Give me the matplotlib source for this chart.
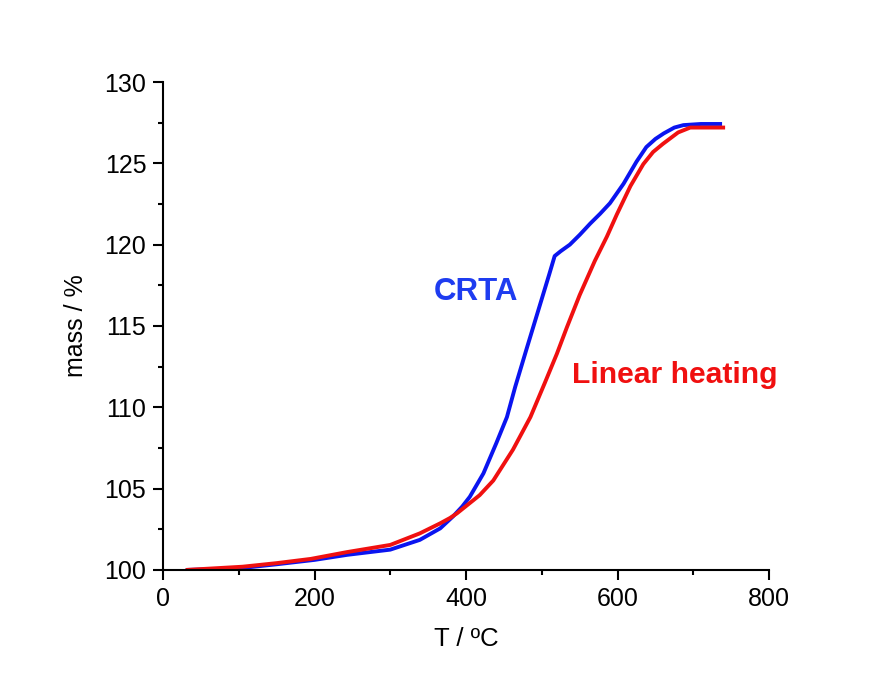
import matplotlib
matplotlib.use("Agg")
from matplotlib import pyplot as plt
from matplotlib.ticker import MultipleLocator

plt.rcParams["font.family"] = ["Liberation Sans", "DejaVu Sans"]

# CRTA curve (blue)
crta_t = [30, 100, 150, 200, 243, 300, 339, 366, 383, 395, 405, 423, 440, 454,
          465, 480, 495, 510, 517, 525, 537, 550, 564, 577, 590, 608, 625, 638,
          650, 661, 675, 687, 710, 738]
crta_m = [100.0, 100.1, 100.35, 100.62, 100.93, 101.25, 101.85, 102.56, 103.3,
          103.9, 104.5, 105.94, 107.8, 109.4, 111.27, 113.6, 115.9, 118.2,
          119.3, 119.6, 120.0, 120.6, 121.3, 121.9, 122.55, 123.75, 125.1,
          126.0, 126.5, 126.84, 127.2, 127.35, 127.42, 127.42]

# linear heating curve (red)
lin_t = [30, 105, 150, 195, 243, 300, 339, 366, 379, 388, 410, 418, 436, 462,
         485, 504, 520, 533, 550, 570, 586, 599, 617, 634, 647, 660, 680, 696,
         720, 742]
lin_m = [100.0, 100.2, 100.42, 100.68, 101.1, 101.54, 102.25, 102.87, 103.2,
         103.48, 104.3, 104.6, 105.5, 107.4, 109.4, 111.5, 113.3, 114.9, 116.9,
         119.0, 120.5, 121.85, 123.6, 124.95, 125.7, 126.2, 126.9, 127.2,
         127.2, 127.2]

fig = plt.figure(figsize=(8.75, 6.75), dpi=100)
ax = fig.add_axes([0.1863, 0.1556, 0.6926, 0.7229])

ax.plot(crta_t, crta_m, color="#0a14f0", lw=2.8, solid_capstyle="butt",
        solid_joinstyle="round")
ax.plot(lin_t, lin_m, color="#f01010", lw=2.8, solid_capstyle="butt",
        solid_joinstyle="round")

ax.text(413, 117.1, "CRTA", color="#1e3cf0", fontsize=22.5,
        fontweight="bold", ha="center", va="center")
ax.text(675, 112.0, "Linear heating", color="#f01010", fontsize=21.7,
        fontweight="bold", ha="center", va="center")

ax.set_xlim(0, 800)
ax.set_ylim(100, 130)
ax.xaxis.set_major_locator(MultipleLocator(200))
ax.xaxis.set_minor_locator(MultipleLocator(100))
ax.yaxis.set_major_locator(MultipleLocator(5))
ax.yaxis.set_minor_locator(MultipleLocator(2.5))

for s in ("top", "right"):
    ax.spines[s].set_visible(False)
for s in ("left", "bottom"):
    ax.spines[s].set_linewidth(1.5)
ax.tick_params(which="major", direction="out", length=7, width=1.5,
               labelsize=18, pad=5)
ax.tick_params(which="minor", direction="out", length=3.5, width=1.5)

ax.set_xlabel("T / ºC", fontsize=18.5, labelpad=12)
ax.set_ylabel("mass / %", fontsize=18, labelpad=12)

fig.savefig("out.png", dpi=100, facecolor="white")
